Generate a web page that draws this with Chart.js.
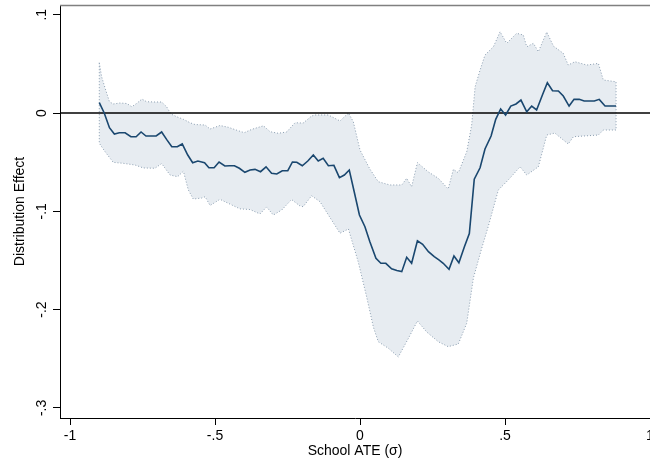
<!DOCTYPE html>
<html><head><meta charset="utf-8">
<script src="https://cdn.jsdelivr.net/npm/chart.js@4.4.1/dist/chart.umd.min.js"></script>
<style>html,body{margin:0;padding:0;background:#fff}</style>
</head><body><canvas id="c" width="650" height="470"></canvas>
<script>
// Point estimate (x = School ATE, y = distribution effect)
const centerX = [-0.899,-0.882,-0.864,-0.847,-0.830,-0.810,-0.790,-0.772,-0.755,-0.738,
-0.721,-0.703,-0.684,-0.667,-0.649,-0.630,-0.613,-0.594,-0.577,-0.559,
-0.536,-0.521,-0.503,-0.486,-0.466,-0.450,-0.433,-0.416,-0.397,-0.379,
-0.362,-0.343,-0.324,-0.305,-0.287,-0.268,-0.249,-0.233,-0.218,-0.199,
-0.180,-0.161,-0.144,-0.127,-0.109,-0.090,-0.071,-0.054,-0.037,-0.020,
-0.002,0.017,0.034,0.055,0.072,0.089,0.109,0.127,0.144,0.161,
0.178,0.198,0.216,0.236,0.256,0.272,0.287,0.307,0.324,0.341,
0.360,0.377,0.394,0.414,0.431,0.452,0.468,0.485,0.502,0.520,
0.538,0.555,0.575,0.592,0.609,0.629,0.646,0.664,0.684,0.701,
0.721,0.738,0.756,0.773,0.791,0.808,0.825,0.845,0.864,0.883];
const centerY = [0.0105,0.000,-0.0149,-0.0214,-0.0201,-0.0201,-0.0241,-0.0241,-0.0193,-0.0234,
-0.0234,-0.0234,-0.0193,-0.0268,-0.0343,-0.0343,-0.0315,-0.0427,-0.0506,-0.0489,
-0.0506,-0.0557,-0.0557,-0.0499,-0.0539,-0.0537,-0.0536,-0.0562,-0.0603,-0.0580,
-0.0573,-0.0597,-0.0547,-0.0613,-0.0620,-0.0587,-0.0587,-0.0498,-0.0501,-0.0537,
-0.0488,-0.0427,-0.0488,-0.0461,-0.0536,-0.0532,-0.0658,-0.0631,-0.0580,-0.0801,
-0.1038,-0.1157,-0.1309,-0.1478,-0.1529,-0.1529,-0.1585,-0.1603,-0.1614,-0.1468,
-0.1529,-0.1300,-0.1336,-0.1411,-0.1462,-0.1495,-0.1529,-0.1590,-0.1455,-0.1523,
-0.1360,-0.1226,-0.0674,-0.0557,-0.0366,-0.0234,-0.0064,0.0041,-0.0020,0.0071,
0.0092,0.0132,0.0013,0.0071,0.0031,0.0183,0.0308,0.0226,0.0224,0.0173,
0.0071,0.0139,0.0139,0.0122,0.0122,0.0122,0.0139,0.0071,0.0071,0.0071];

// Upper confidence bound
const upperX = [-0.899,-0.891,-0.879,-0.864,-0.851,-0.828,-0.804,-0.787,-0.770,-0.752,
-0.736,-0.707,-0.684,-0.667,-0.652,-0.632,-0.609,-0.586,-0.569,-0.534,
-0.517,-0.483,-0.454,-0.420,-0.399,-0.373,-0.333,-0.310,-0.282,-0.253,
-0.224,-0.196,-0.167,-0.155,-0.109,-0.069,-0.040,-0.023,0.000,0.034,
0.063,0.103,0.144,0.161,0.178,0.198,0.236,0.270,0.304,0.322,
0.339,0.368,0.385,0.397,0.414,0.431,0.460,0.483,0.506,0.540,
0.563,0.575,0.598,0.615,0.644,0.667,0.701,0.718,0.741,0.782,
0.822,0.839,0.883];
const upperY = [0.0512,0.0370,0.0254,0.0115,0.0092,0.0102,0.0097,0.0064,0.0098,0.0142,
0.0115,0.0112,0.0112,0.0064,-0.0010,-0.0038,-0.0064,-0.0099,-0.0117,-0.0122,
-0.0163,-0.0127,-0.0145,-0.0180,-0.0200,-0.0166,-0.0130,-0.0190,-0.0206,-0.0193,
-0.0099,-0.0102,-0.0031,-0.0020,-0.0020,-0.0081,0.0000,-0.0089,-0.0376,-0.0570,
-0.0699,-0.0732,-0.0732,-0.0664,-0.0750,-0.0505,-0.0600,-0.0664,-0.0773,-0.0573,
-0.0608,-0.0394,-0.0122,0.0268,0.0437,0.0590,0.0674,0.0827,0.0709,0.0811,
0.0794,0.0674,0.0709,0.0624,0.0824,0.0681,0.0607,0.0488,0.0522,0.0488,
0.0505,0.0336,0.0318];

// Lower confidence bound
const lowerX = [-0.899,-0.879,-0.851,-0.816,-0.776,-0.747,-0.707,-0.684,-0.655,-0.629,
-0.609,-0.592,-0.575,-0.546,-0.534,-0.517,-0.483,-0.454,-0.414,-0.379,
-0.345,-0.322,-0.299,-0.270,-0.236,-0.207,-0.196,-0.167,-0.138,-0.109,
-0.069,-0.040,-0.006,0.023,0.046,0.063,0.098,0.132,0.167,0.198,
0.230,0.270,0.304,0.339,0.368,0.391,0.420,0.442,0.477,0.511,
0.552,0.575,0.615,0.644,0.672,0.684,0.718,0.736,0.822,0.839,
0.883];
const lowerY = [-0.0308,-0.0394,-0.0502,-0.0512,-0.0529,-0.0559,-0.0562,-0.0514,-0.0631,-0.0648,
-0.0592,-0.0783,-0.0875,-0.0865,-0.0852,-0.0941,-0.0878,-0.0919,-0.0975,-0.0982,
-0.1027,-0.0956,-0.1038,-0.0987,-0.0880,-0.0946,-0.0953,-0.0842,-0.0902,-0.1038,
-0.1223,-0.1180,-0.1516,-0.1872,-0.2177,-0.2327,-0.2394,-0.2482,-0.2292,-0.2116,
-0.2228,-0.2327,-0.2377,-0.2350,-0.2139,-0.1679,-0.1373,-0.1157,-0.0783,-0.0682,
-0.0547,-0.0631,-0.0547,-0.0224,-0.0204,-0.0234,-0.0315,-0.0241,-0.0224,-0.0173,
-0.0173];

const xTicks = [-1, -0.5, 0, 0.5, 1];
const yTicks = [-0.3, -0.2, -0.1, 0, 0.1];
const refValue = [0];

const X_MIN = -1.0345, X_MAX = 1.0, Y_MIN = -0.3103, Y_MAX = 0.1099;

const pts = (xs, ys) => xs.map((x, i) => ({x, y: ys[i]}));
const upperPts = pts(upperX, upperY);
const lowerPts = pts(lowerX, lowerY);
const outlinePts = upperPts.concat(lowerPts.slice().reverse(), [upperPts[0]]);

function stataFmt(v) {
  const r = Math.round(v * 10) / 10;
  if (r === 0) return '0';
  let s = String(Math.abs(r));
  if (s.startsWith('0.')) s = s.slice(1);
  return (r < 0 ? '-' : '') + s;
}

const frame = {
  id: 'frame',
  afterDraw(chart) {
    const {ctx, chartArea: a} = chart;
    ctx.save();
    ctx.strokeStyle = '#808080';
    ctx.lineWidth = 1.5;
    ctx.beginPath();
    ctx.moveTo(a.left, a.top + 0.5);
    ctx.lineTo(a.right, a.top + 0.5);
    ctx.stroke();
    ctx.restore();
  }
};

const FONT = {family: "'Liberation Sans', Arial, Helvetica, sans-serif", size: 14};

new Chart(document.getElementById('c'), {
  type: 'line',
  data: {
    datasets: [
      { label: 'estimate', data: pts(centerX, centerY), borderColor: '#1a476f', borderWidth: 1.6,
        pointRadius: 0, fill: false, tension: 0 },
      { label: 'zero', data: refValue.flatMap(v => [{x: X_MIN, y: v}, {x: X_MAX, y: v}]),
        borderColor: '#000', borderWidth: 1.5, pointRadius: 0, fill: false },
      { label: 'outline', data: outlinePts, borderColor: '#8a9db0', borderWidth: 1,
        borderDash: [1, 2], pointRadius: 0, fill: false, tension: 0 },
      { label: 'upper', data: upperPts, borderWidth: 0, borderColor: 'rgba(0,0,0,0)',
        pointRadius: 0, fill: false, tension: 0 },
      { label: 'lower', data: lowerPts, borderWidth: 0, borderColor: 'rgba(0,0,0,0)',
        backgroundColor: '#e7ecf1', pointRadius: 0, fill: 3, tension: 0 }
    ]
  },
  options: {
    responsive: false,
    animation: false,
    layout: {padding: {top: 5, right: 0, left: 0, bottom: 0}},
    plugins: {legend: {display: false}, tooltip: {enabled: false}},
    scales: {
      x: {
        type: 'linear', min: X_MIN, max: X_MAX,
        afterBuildTicks: s => { s.ticks = xTicks.map(v => ({value: v})); },
        afterFit: s => { s.height = 52; s.paddingLeft = 0; s.paddingRight = 0; },
        grid: {drawOnChartArea: false, drawTicks: true, tickLength: 7, color: '#000', lineWidth: 1},
        border: {display: true, color: '#000', width: 1},
        ticks: {font: FONT, color: '#000', padding: 3, maxRotation: 0, autoSkip: false,
                callback: v => stataFmt(v)},
        title: {display: true, text: 'School ATE (σ)', font: FONT, color: '#000',
                padding: {top: 0, bottom: 10}}
      },
      y: {
        type: 'linear', min: Y_MIN, max: Y_MAX,
        afterBuildTicks: s => { s.ticks = yTicks.map(v => ({value: v})); },
        afterFit: s => { s.width = 60; s.paddingTop = 0; s.paddingBottom = 0; },
        grid: {drawOnChartArea: false, drawTicks: true, tickLength: 7, color: '#000', lineWidth: 1},
        border: {display: true, color: '#000', width: 1},
        ticks: {font: FONT, color: '#000', padding: 3, minRotation: 90, maxRotation: 90,
                crossAlign: 'center', autoSkip: false, callback: v => stataFmt(v)},
        title: {display: true, text: 'Distribution Effect', font: FONT, color: '#000',
                padding: {top: 12, bottom: 0}}
      }
    }
  },
  plugins: [frame]
});
</script>
</body></html>
